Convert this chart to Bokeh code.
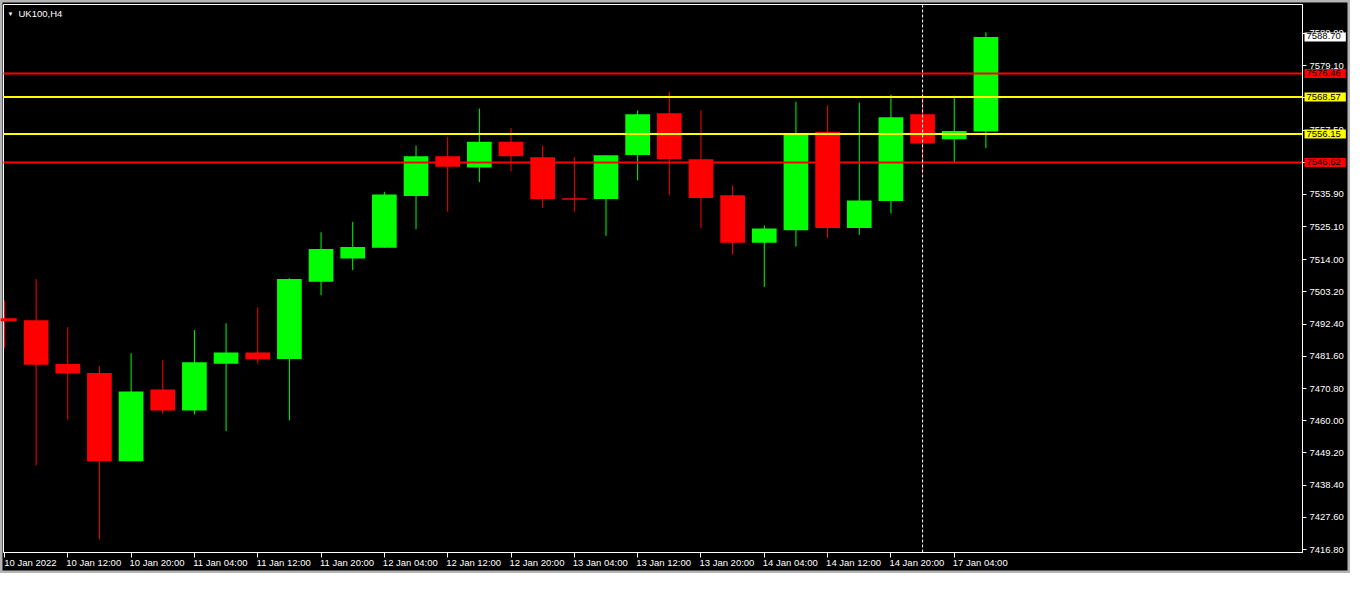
from bokeh.plotting import figure
from bokeh.models import ColumnDataSource, Label, Range1d, LinearAxis, FixedTicker
from bokeh.embed import file_html
from bokeh.resources import INLINE

# ---------------- data ----------------
symbol = "UK100,H4"

bar_times = [
    "10 Jan 04:00", "10 Jan 08:00", "10 Jan 12:00", "10 Jan 16:00", "10 Jan 20:00",
    "11 Jan 00:00", "11 Jan 04:00", "11 Jan 08:00", "11 Jan 12:00", "11 Jan 16:00", "11 Jan 20:00",
    "12 Jan 00:00", "12 Jan 04:00", "12 Jan 08:00", "12 Jan 12:00", "12 Jan 16:00", "12 Jan 20:00",
    "13 Jan 00:00", "13 Jan 04:00", "13 Jan 08:00", "13 Jan 12:00", "13 Jan 16:00", "13 Jan 20:00",
    "14 Jan 00:00", "14 Jan 04:00", "14 Jan 08:00", "14 Jan 12:00", "14 Jan 16:00", "14 Jan 20:00",
    "17 Jan 00:00", "17 Jan 04:00", "17 Jan 08:00",
]
opens = [7494.4, 7493.7, 7479.0, 7476.0, 7446.4, 7470.5, 7463.4, 7479.1, 7482.9, 7480.7,
         7506.6, 7514.4, 7518.0, 7535.4, 7548.7, 7544.9, 7553.6, 7548.4, 7534.6, 7534.4,
         7549.1, 7563.1, 7547.7, 7535.6, 7519.7, 7523.9, 7556.9, 7524.6, 7533.7, 7562.8,
         7554.4, 7557.0]
highs = [7500.3, 7507.5, 7491.4, 7478.3, 7482.6, 7480.3, 7490.4, 7492.7, 7498.0, 7507.8,
         7523.2, 7526.7, 7536.8, 7552.3, 7555.2, 7564.7, 7558.2, 7552.3, 7548.4, 7549.0,
         7564.1, 7570.3, 7564.1, 7538.9, 7525.5, 7567.0, 7565.8, 7566.7, 7569.3, 7569.7,
         7569.0, 7590.3]
lows = [7484.3, 7445.0, 7460.4, 7420.2, 7446.4, 7462.3, 7462.1, 7456.5, 7479.1, 7460.1,
        7502.1, 7510.5, 7518.0, 7524.2, 7530.1, 7540.0, 7543.6, 7531.4, 7530.1, 7522.0,
        7540.6, 7535.7, 7524.6, 7515.7, 7504.9, 7518.4, 7521.3, 7522.3, 7529.5, 7542.9,
        7546.8, 7551.4]
closes = [7493.4, 7478.8, 7475.8, 7446.4, 7469.8, 7463.4, 7479.6, 7482.9, 7480.6, 7507.5,
          7517.6, 7518.3, 7535.9, 7548.7, 7545.2, 7553.6, 7548.7, 7534.4, 7534.1, 7549.0,
          7562.8, 7547.8, 7534.7, 7519.7, 7524.5, 7556.5, 7524.6, 7533.9, 7561.8, 7553.0,
          7557.2, 7588.7]

tick_times = ["10 Jan 04:00", "10 Jan 12:00", "10 Jan 20:00", "11 Jan 04:00", "11 Jan 12:00",
              "11 Jan 20:00", "12 Jan 04:00", "12 Jan 12:00", "12 Jan 20:00", "13 Jan 04:00",
              "13 Jan 12:00", "13 Jan 20:00", "14 Jan 04:00", "14 Jan 12:00", "14 Jan 20:00",
              "17 Jan 04:00"]
tick_labels = ["10 Jan 2022", "10 Jan 12:00", "10 Jan 20:00", "11 Jan 04:00", "11 Jan 12:00",
               "11 Jan 20:00", "12 Jan 04:00", "12 Jan 12:00", "12 Jan 20:00", "13 Jan 04:00",
               "13 Jan 12:00", "13 Jan 20:00", "14 Jan 04:00", "14 Jan 12:00", "14 Jan 20:00",
               "17 Jan 04:00"]

price_ticks = [7416.80, 7427.60, 7438.40, 7449.20, 7460.00, 7470.80, 7481.60, 7492.40,
               7503.20, 7514.00, 7525.10, 7535.90, 7546.70, 7557.50, 7568.30, 7579.10, 7589.90]

level_values = [7576.46, 7568.57, 7556.15, 7546.62]
level_colors = ["#ff0000", "#ffff00", "#ffff00", "#ff0000"]

separator_time = "17 Jan 00:00"
current_price = 7588.70

# ---------------- layout constants ----------------
W, H = 1350, 573                     # figure = frame
BOX_L, BOX_R, BOX_T, BOX_B = 3, 1302, 4, 552   # chart box in pixels
X0, X1 = -0.03, 41.0                 # chart box in bar units
Y0, Y1 = 7415.8, 7599.6              # chart box in price units

sx = (BOX_R - BOX_L) / (X1 - X0)
sy = (BOX_B - BOX_T) / (Y1 - Y0)
x_range = Range1d(X0 - BOX_L / sx, X1 + (W - BOX_R) / sx)
y_range = Range1d(Y0 - (H - BOX_B) / sy, Y1 + BOX_T / sy)

FONT = "Liberation Sans"
FS = "9.5px"
UP = "#00ff00"
DOWN = "#ff0000"

x_idx = list(range(len(bar_times)))
colors = [UP if c >= o else DOWN for o, c in zip(opens, closes)]
src = ColumnDataSource(dict(
    x=x_idx, high=highs, low=lows,
    top=[max(o, c) for o, c in zip(opens, closes)],
    bottom=[min(o, c) for o, c in zip(opens, closes)],
    color=colors,
))

p = figure(width=W, height=H, output_backend="svg", toolbar_location=None,
           x_range=x_range, y_range=y_range,
           min_border_left=0, min_border_top=0, min_border_right=0, min_border_bottom=0,
           x_axis_location=None, y_axis_location=None)
p.background_fill_color = "black"
p.border_fill_color = "black"
p.outline_line_color = "#b4b4b4"
p.outline_line_width = 4
p.xgrid.visible = False
p.ygrid.visible = False

# right price scale, fixed at the chart box edge
yax = LinearAxis(ticker=FixedTicker(ticks=price_ticks), fixed_location=X1, bounds=(Y0, Y1))
yax.major_label_overrides = {v: f"{v:.2f}" for v in price_ticks}
yax.axis_line_color = "white"
yax.major_tick_line_color = "white"
yax.major_tick_in = 0
yax.major_tick_out = 4
yax.minor_tick_line_color = None
yax.major_label_text_color = "white"
yax.major_label_text_font = FONT
yax.major_label_text_font_size = FS
yax.major_label_standoff = 3
p.add_layout(yax, "right")

# bottom time scale: tick marks at the bars
tick_pos = [bar_times.index(t) for t in tick_times]
xax = LinearAxis(ticker=FixedTicker(ticks=tick_pos), fixed_location=Y0, bounds=(X0, X1))
xax.major_label_overrides = {t: " " for t in tick_pos}
xax.axis_line_color = "white"
xax.major_tick_line_color = "white"
xax.major_tick_in = 0
xax.major_tick_out = 5
xax.minor_tick_line_color = None
xax.major_label_text_font_size = "1px"
p.add_layout(xax, "below")

# labels that start at their tick (MT4 style)
half_w = 0.82
label_pos = [t + half_w for t in tick_pos]
xlab = LinearAxis(ticker=FixedTicker(ticks=label_pos), fixed_location=Y0)
xlab.major_label_overrides = {lp: lab for lp, lab in zip(label_pos, tick_labels)}
xlab.axis_line_color = None
xlab.major_tick_line_color = None
xlab.major_tick_in = 0
xlab.major_tick_out = 0
xlab.minor_tick_line_color = None
xlab.major_label_text_color = "white"
xlab.major_label_text_font = FONT
xlab.major_label_text_font_size = FS
xlab.major_label_standoff = 4
p.add_layout(xlab, "below")

# chart box border
p.quad(left=[X0], right=[X1], bottom=[Y0], top=[Y1], fill_color=None,
       line_color="white", line_width=1)

# candles
p.segment(x0="x", y0="low", x1="x", y1="high", color="color", line_width=1, source=src)
p.vbar(x="x", width=0.78, top="top", bottom="bottom", fill_color="color",
       line_color=None, source=src)

# horizontal levels (inside the chart box only)
p.segment(x0=[X0] * len(level_values), x1=[X1] * len(level_values),
          y0=level_values, y1=level_values, line_color=level_colors, line_width=2)

# period separator
sep = bar_times.index(separator_time)
p.segment(x0=[sep], x1=[sep], y0=[Y0], y1=[Y1], line_color="white", line_width=1,
          line_dash="3 2")

# price boxes on the right scale
boxes = [(current_price, "white")] + list(zip(level_values, level_colors))
for v, bg in boxes:
    p.add_layout(Label(x=X1, y=v, text=f"{v:.2f}", x_offset=2,
                       text_align="left", text_baseline="middle",
                       text_color="black", text_font=FONT, text_font_size=FS,
                       background_fill_color=bg, padding=(2, 5, 1, 2)))

# symbol title
p.add_layout(Label(x=X0, y=Y1, text="\u25bc", x_offset=4, y_offset=-9,
                   text_color="white", text_font=FONT, text_font_size="6px",
                   text_baseline="middle", text_align="left"))
p.add_layout(Label(x=X0, y=Y1, text=symbol, x_offset=15, y_offset=-9,
                   text_color="white", text_font=FONT, text_font_size=FS,
                   text_baseline="middle", text_align="left"))

open("out.html", "w").write(file_html(p, INLINE))
